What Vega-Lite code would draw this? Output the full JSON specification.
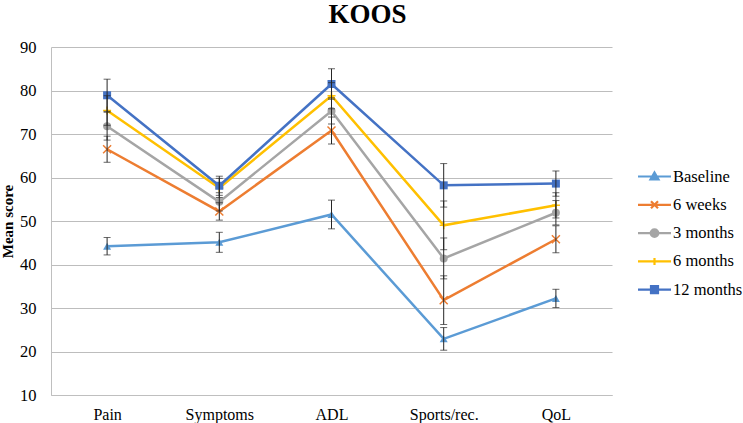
{
  "$schema": "https://vega.github.io/schema/vega-lite/v6.json",
  "width": 561,
  "height": 348,
  "autosize": {"type": "none"},
  "padding": {"left": 51, "top": 47, "right": 131, "bottom": 28},
  "background": "white",
  "config": {
    "view": {"stroke": null},
    "font": "Liberation Serif",
    "axis": {"labelFont": "Liberation Serif", "titleFont": "Liberation Serif", "labelColor": "#000", "titleColor": "#000"},
    "legend": {"labelFont": "Liberation Serif"}
  },
  "title": {
    "text": "KOOS",
    "font": "Liberation Serif",
    "fontSize": 27,
    "fontWeight": "bold",
    "color": "#000",
    "anchor": "middle",
    "frame": "group",
    "dx": 36,
    "dy": 30,
    "baseline": "alphabetic",
    "offset": 19
  },
  "data": {
    "values": [
      {"cat": "Pain", "series": "Baseline", "mean": 44.2, "err": 2.0},
      {"cat": "Symptoms", "series": "Baseline", "mean": 45.1, "err": 2.3},
      {"cat": "ADL", "series": "Baseline", "mean": 51.5, "err": 3.3},
      {"cat": "Sports/rec.", "series": "Baseline", "mean": 22.9, "err": 2.6},
      {"cat": "QoL", "series": "Baseline", "mean": 32.2, "err": 2.1},
      {"cat": "Pain", "series": "6 weeks", "mean": 66.5, "err": 3.0},
      {"cat": "Symptoms", "series": "6 weeks", "mean": 52.2, "err": 2.0},
      {"cat": "ADL", "series": "6 weeks", "mean": 70.8, "err": 3.1},
      {"cat": "Sports/rec.", "series": "6 weeks", "mean": 31.8, "err": 5.6},
      {"cat": "QoL", "series": "6 weeks", "mean": 45.8, "err": 3.1},
      {"cat": "Pain", "series": "3 months", "mean": 71.8, "err": 3.2},
      {"cat": "Symptoms", "series": "3 months", "mean": 54.4, "err": 2.1},
      {"cat": "ADL", "series": "3 months", "mean": 75.3, "err": 3.0},
      {"cat": "Sports/rec.", "series": "3 months", "mean": 41.4, "err": 4.7},
      {"cat": "QoL", "series": "3 months", "mean": 51.9, "err": 2.8},
      {"cat": "Pain", "series": "6 months", "mean": 75.4, "err": 3.4},
      {"cat": "Symptoms", "series": "6 months", "mean": 57.6, "err": 2.2},
      {"cat": "ADL", "series": "6 months", "mean": 78.8, "err": 3.0},
      {"cat": "Sports/rec.", "series": "6 months", "mean": 49.0, "err": 5.6},
      {"cat": "QoL", "series": "6 months", "mean": 53.6, "err": 2.9},
      {"cat": "Pain", "series": "12 months", "mean": 78.9, "err": 3.7},
      {"cat": "Symptoms", "series": "12 months", "mean": 58.1, "err": 2.2},
      {"cat": "ADL", "series": "12 months", "mean": 81.5, "err": 3.5},
      {"cat": "Sports/rec.", "series": "12 months", "mean": 58.2, "err": 5.0},
      {"cat": "QoL", "series": "12 months", "mean": 58.6, "err": 2.9}
    ]
  },
  "encoding": {
    "x": {
      "field": "cat",
      "type": "nominal",
      "sort": ["Pain", "Symptoms", "ADL", "Sports/rec.", "QoL"],
      "scale": {"type": "point", "padding": 0.5},
      "axis": {
        "title": null,
        "labelAngle": 0,
        "labelFont": "Liberation Serif",
        "labelFontSize": 16,
        "labelPadding": 11,
        "ticks": false,
        "tickSize": 0,
        "domainColor": "#bfbfbf",
        "domainWidth": 1,
        "grid": false
      }
    },
    "y": {
      "field": "mean",
      "type": "quantitative",
      "scale": {"domain": [10, 90], "nice": false, "zero": false},
      "axis": {
        "title": "Mean score",
        "titleFont": "Liberation Serif",
        "titleFontSize": 15,
        "titleFontWeight": "bold",
        "titlePadding": 4,
        "values": [10, 20, 30, 40, 50, 60, 70, 80, 90],
        "labelFont": "Liberation Serif",
        "labelFontSize": 16.5,
        "labelPadding": 15,
        "ticks": false,
        "tickSize": 0,
        "domainColor": "#bfbfbf",
        "gridColor": "#bdbdbd",
        "gridWidth": 1
      }
    }
  },
  "layer": [
    {
      "mark": {"type": "line", "strokeWidth": 2.5},
      "encoding": {
        "color": {
          "field": "series",
          "type": "nominal",
          "scale": {
            "domain": ["Baseline", "6 weeks", "3 months", "6 months", "12 months"],
            "range": ["#5B9BD5", "#ED7D31", "#A5A5A5", "#FFC000", "#4472C4"]
          },
          "legend": {
            "title": null,
            "orient": "none",
            "legendX": 592,
            "legendY": 118,
            "padding": 0,
            "labelFont": "Liberation Serif",
            "labelFontSize": 16.5,
            "labelColor": "#000",
            "labelOffset": 7,
            "symbolSize": 400,
            "rowPadding": 8.3,
            "encode": {
              "symbols": {
                "update": {
                  "shape": {"signal": "datum.value === 'Baseline' ? 'M-1.65,0H1.65M0,-0.4L0.4,0.3L-0.4,0.3Z' : datum.value === '6 weeks' ? 'M-1.65,0H1.65M-0.35,-0.35L0.35,0.35M-0.35,0.35L0.35,-0.35' : datum.value === '3 months' ? 'M-1.65,0H1.65M0.38,0A0.38,0.38 0 1,1 -0.38,0A0.38,0.38 0 1,1 0.38,0Z' : datum.value === '6 months' ? 'M-1.65,0H1.65M0,-0.35V0.35' : 'M-1.65,0H1.65M-0.35,-0.35H0.35V0.35H-0.35Z'"},
                  "fill": {"signal": "scale('color', datum.value)"},
                  "stroke": {"signal": "scale('color', datum.value)"},
                  "strokeWidth": {"value": 2.2},
                  "size": {"value": 400},
                  "opacity": {"value": 1}
                }
              }
            }
          }
        }
      }
    },
    {
      "transform": [{"filter": "datum.series === 'Baseline'"}],
      "mark": {"type": "point", "shape": "triangle-up", "filled": true, "color": "#5B9BD5", "opacity": 1, "size": 64}
    },
    {
      "transform": [{"filter": "datum.series === '6 weeks'"}],
      "mark": {"type": "point", "shape": "M-1,-1L1,1M-1,1L1,-1", "filled": false, "color": "#ED7D31", "opacity": 1, "size": 64, "strokeWidth": 1.5}
    },
    {
      "transform": [{"filter": "datum.series === '3 months'"}],
      "mark": {"type": "point", "shape": "circle", "filled": true, "color": "#A5A5A5", "opacity": 1, "size": 64}
    },
    {
      "transform": [{"filter": "datum.series === '6 months'"}],
      "mark": {"type": "point", "shape": "M-1,0H1M0,-1V1", "filled": false, "color": "#FFC000", "opacity": 1, "size": 64, "strokeWidth": 1.5}
    },
    {
      "transform": [{"filter": "datum.series === '12 months'"}],
      "mark": {"type": "point", "shape": "square", "filled": true, "color": "#4472C4", "opacity": 1, "size": 64}
    },
    {
      "mark": {"type": "errorbar", "color": "#262626", "thickness": 1, "ticks": {"size": 7, "color": "#262626", "thickness": 1}},
      "encoding": {
        "yError": {"field": "err"},
        "detail": {"field": "series", "type": "nominal"}
      }
    }
  ]
}
